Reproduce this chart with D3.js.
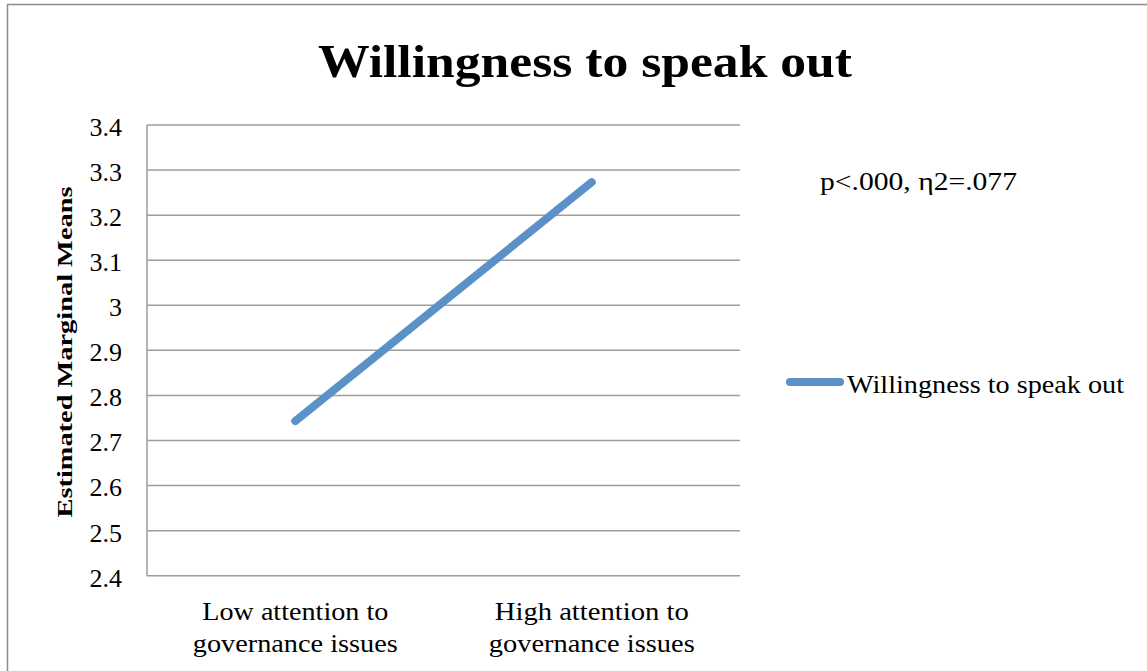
<!DOCTYPE html>
<html>
<head>
<meta charset="utf-8">
<script src="https://cdn.jsdelivr.net/npm/d3@7"></script>
<style>
  body { margin: 0; background: white; }
  text { font-family: "Liberation Serif", "DejaVu Serif", serif; fill: black; }
</style>
</head>
<body>
<div id="chart"></div>
<script>
// chart data
const categories = ["Low attention to|governance issues", "High attention to|governance issues"];
const means = [2.743, 3.273];
const yTicks = [2.4, 2.5, 2.6, 2.7, 2.8, 2.9, 3, 3.1, 3.2, 3.3, 3.4];
const seriesName = "Willingness to speak out";
const note = "p<.000, η2=.077";

function drawChart() {
  const W = 1147, H = 671;
  const margin = { top: 125, left: 147, right: 407, bottom: 95 };
  const plotW = W - margin.left - margin.right,
    plotH = H - margin.top - margin.bottom - 0.3;

  const svg = d3.select('#chart')
    .append('svg')
    .attr('width', W)
    .attr('height', H)
    .style('background-color', 'white');

  // outer chart border
  svg.append('rect')
    .attr('x', 7.5).attr('y', 4.5)
    .attr('width', W + 20).attr('height', H + 20)
    .style('fill', 'none')
    .style('stroke', '#8c8c8c')
    .style('stroke-width', 1.5);

  // title
  svg.append('text')
    .attr('x', 585).attr('y', 77)
    .attr('text-anchor', 'middle')
    .attr('textLength', 534)
    .attr('lengthAdjust', 'spacingAndGlyphs')
    .style('font-size', '47px')
    .style('font-weight', 'bold')
    .text("Willingness to speak out");

  const g = svg.append('g').attr('transform', `translate(${margin.left},${margin.top})`);

  const x = d3.scaleBand().domain(categories).range([0, plotW]);
  const y = d3.scaleLinear().domain([2.4, 3.4]).range([plotH, 0]);

  // gridlines
  g.append('g')
    .selectAll('line')
    .data(yTicks)
    .join('line')
    .attr('x1', 0).attr('x2', plotW)
    .attr('y1', d => y(d)).attr('y2', d => y(d))
    .style('stroke', '#9d9d9d')
    .style('stroke-width', 1.5);

  // y axis line
  g.append('line')
    .attr('x1', 0).attr('x2', 0)
    .attr('y1', 0).attr('y2', plotH)
    .style('stroke', '#9d9d9d')
    .style('stroke-width', 1.5);

  // y axis tick labels
  const yAxis = g.append('g')
    .call(d3.axisLeft(y).tickValues(yTicks).tickFormat(d => String(d)).tickSize(0).tickPadding(25));
  yAxis.select('.domain').remove();
  yAxis.selectAll('text')
    .style('font-size', '26px')
    .attr('dy', '0.4em');

  // x axis labels (two lines each)
  const lineWidths = [[186, 205], [194, 206]];
  const xAxis = g.append('g')
    .attr('transform', `translate(0,${plotH})`)
    .call(d3.axisBottom(x).tickSize(0).tickFormat(''));
  xAxis.select('.domain').remove();
  xAxis.selectAll('.tick').each(function(d, j) {
    const t = d3.select(this).append('text')
      .attr('text-anchor', 'middle')
      .style('font-size', '26px');
    d.split('|').forEach((part, i) => {
      t.append('tspan').attr('x', 0).attr('y', 44 + i * 32)
        .attr('textLength', lineWidths[j][i])
        .attr('lengthAdjust', 'spacingAndGlyphs')
        .text(part);
    });
  });

  // y axis title
  svg.append('text')
    .attr('transform', 'translate(72,352) rotate(-90)')
    .attr('text-anchor', 'middle')
    .attr('textLength', 331)
    .attr('lengthAdjust', 'spacingAndGlyphs')
    .style('font-size', '22px')
    .style('font-weight', 'bold')
    .text("Estimated Marginal Means");

  // series line
  const line = d3.line()
    .x((d, i) => x(categories[i]) + x.bandwidth() / 2)
    .y(d => y(d));
  g.append('path')
    .datum(means)
    .attr('d', line)
    .style('fill', 'none')
    .style('stroke', '#5b91c7')
    .style('stroke-width', 8)
    .style('stroke-linecap', 'round');

  // annotation
  svg.append('text')
    .attr('x', 820).attr('y', 190)
    .attr('textLength', 197)
    .attr('lengthAdjust', 'spacingAndGlyphs')
    .style('font-size', '26px')
    .text(note);

  // legend
  svg.append('line')
    .attr('x1', 790).attr('x2', 840)
    .attr('y1', 382).attr('y2', 382)
    .style('stroke', '#5b91c7')
    .style('stroke-width', 8)
    .style('stroke-linecap', 'round');
  svg.append('text')
    .attr('x', 847).attr('y', 393)
    .attr('textLength', 277)
    .attr('lengthAdjust', 'spacingAndGlyphs')
    .style('font-size', '26px')
    .text(seriesName);
}
drawChart();
</script>
</body>
</html>
